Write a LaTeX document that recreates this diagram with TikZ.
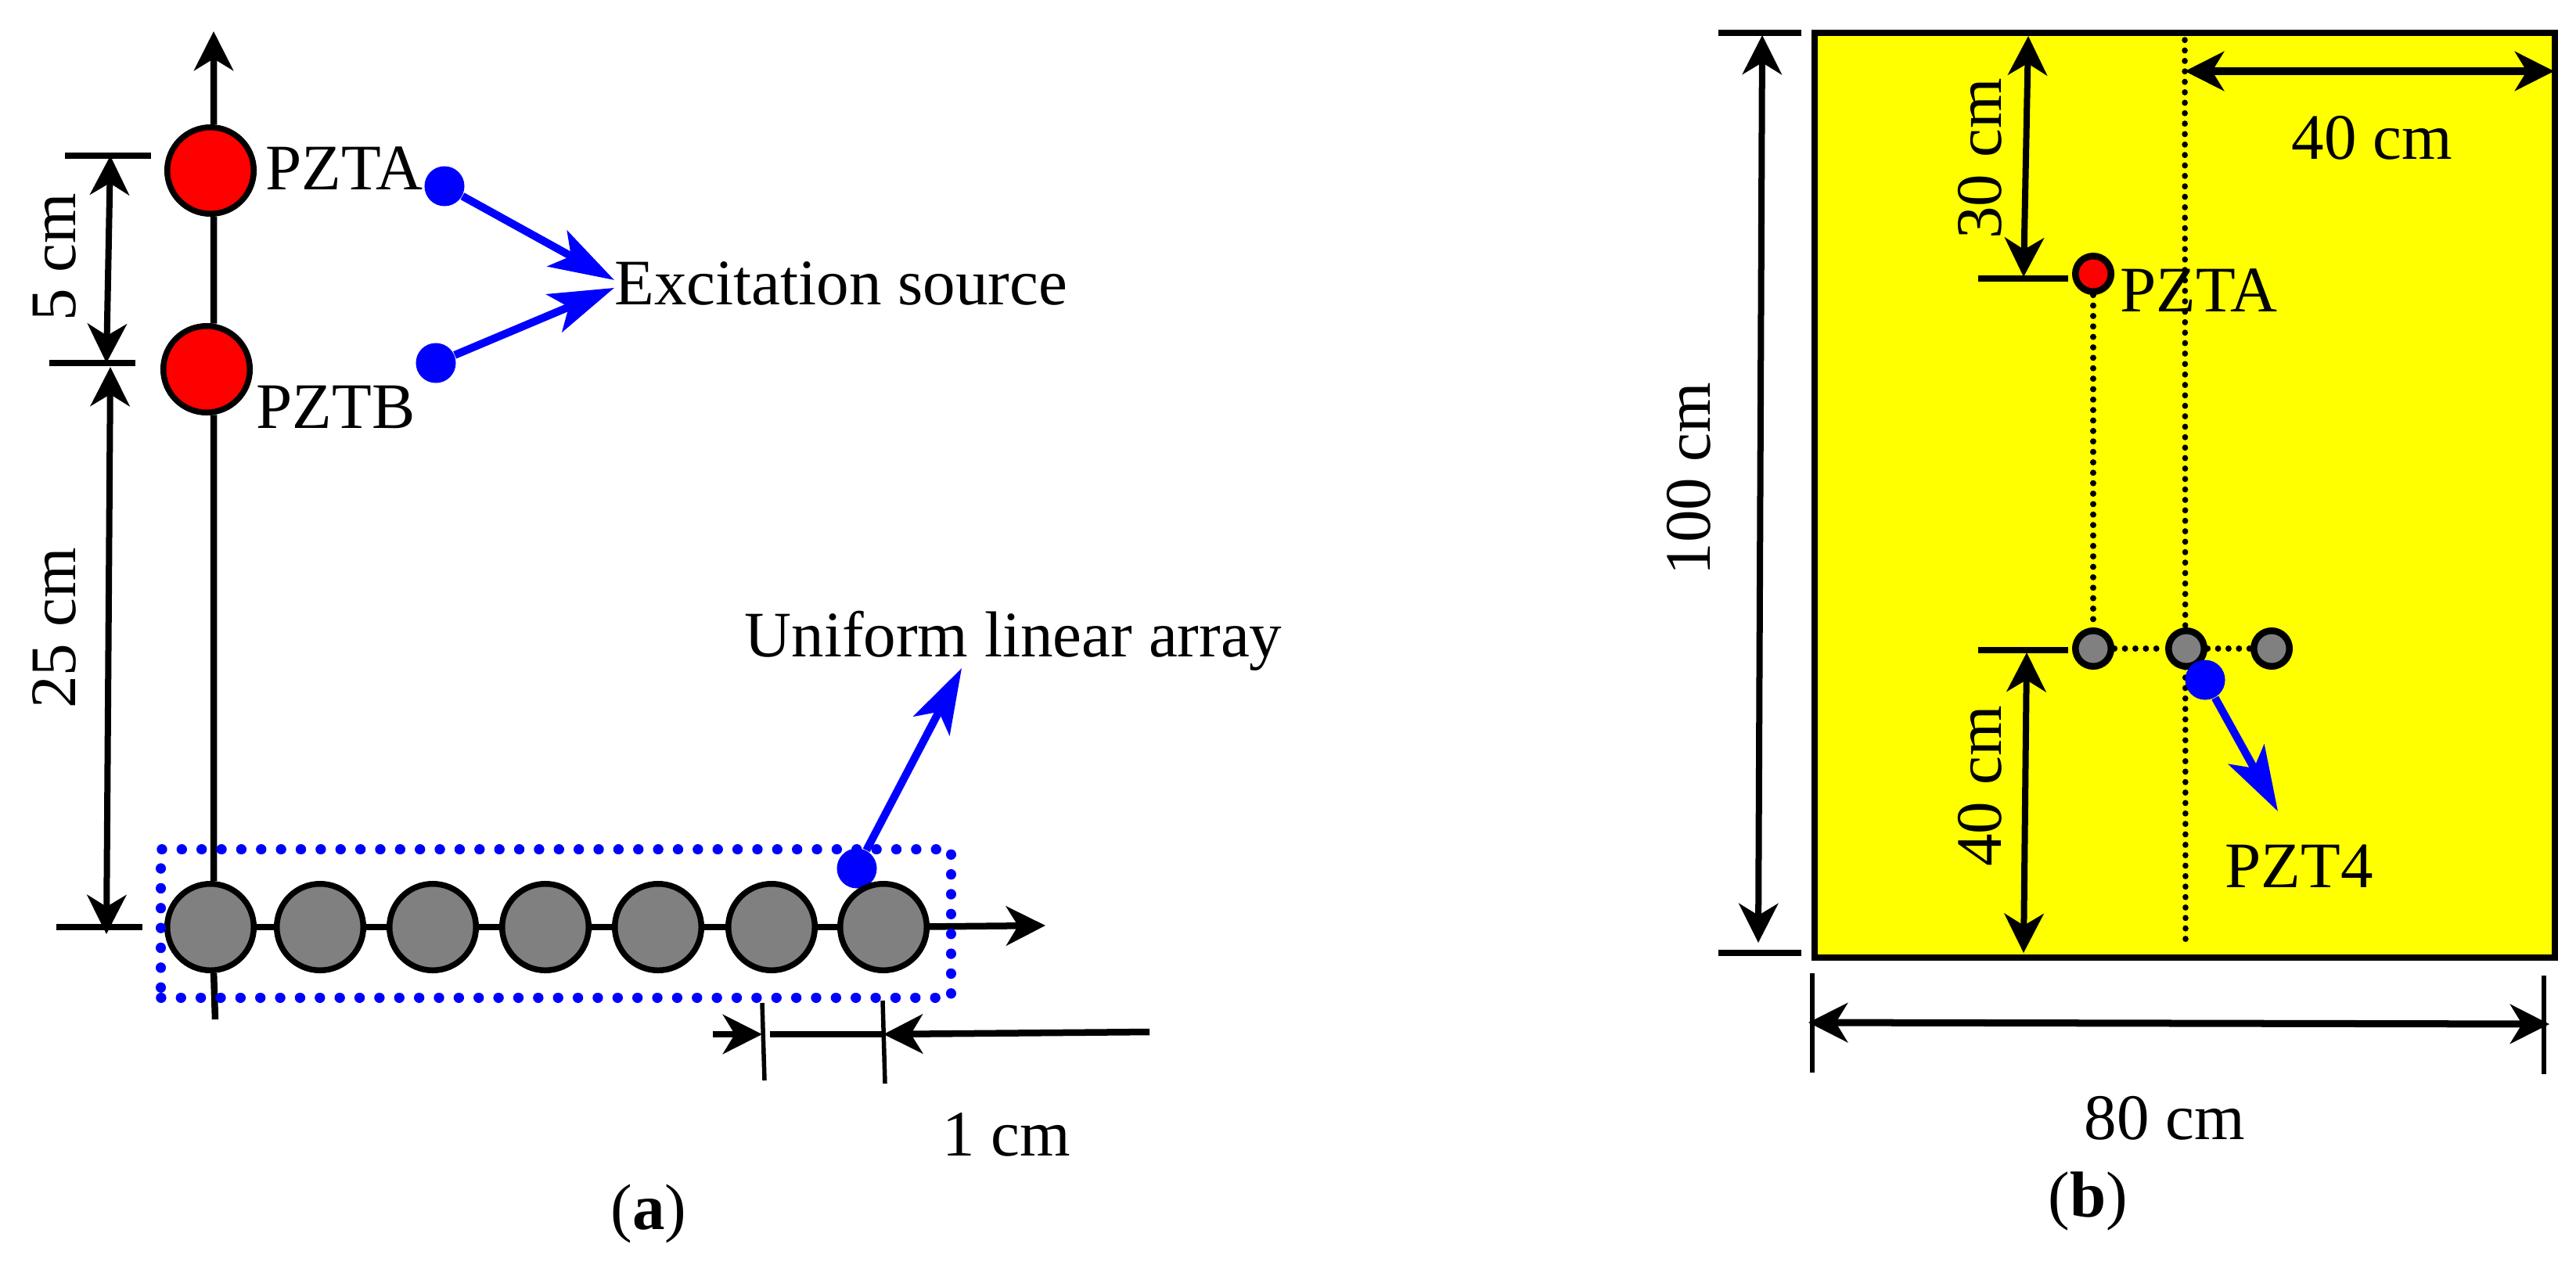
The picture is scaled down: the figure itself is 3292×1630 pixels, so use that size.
\documentclass[tikz,border=0pt]{standalone}
\usepackage{fontspec}
\setmainfont{Liberation Serif}
\usetikzlibrary{arrows.meta}
\newcommand{\figfont}{\fontsize{23.6}{28}\selectfont}
\definecolor{plateyellow}{RGB}{255,255,0}
\definecolor{ptred}{RGB}{255,0,0}
\definecolor{ptblue}{RGB}{0,0,255}
\definecolor{ptgray}{RGB}{128,128,128}
\tikzset{
  dimtip/.tip={Stealth[length=5mm,width=5mm,inset=1.5mm]},
  bluetip/.tip={Stealth[length=8.3mm,width=5.2mm,inset=2mm]}
}
\begin{document}
\begin{tikzpicture}[x=0.01cm,y=-0.01cm,
  sensor/.style={circle,draw=black,line width=0.75mm,minimum size=11.05mm,inner sep=0pt},
  small/.style={circle,draw=black,line width=0.85mm,minimum size=4.55mm,inner sep=0pt},
  marker/.style={circle,fill=ptblue,minimum size=5.1mm,inner sep=0pt},
  txt/.style={font=\figfont,inner sep=0pt,anchor=base west},
  vtxt/.style={font=\figfont,inner sep=0pt,anchor=base,rotate=90},
  axisline/.style={line width=0.85mm},
  tick/.style={line width=0.75mm},
  dimline/.style={line width=0.8mm,dimtip-dimtip},
  pointer/.style={line width=1mm,ptblue,-bluetip},
  dotline/.style={line width=0.75mm,line cap=round,dash pattern=on 0.1pt off 1.3mm}]
\useasboundingbox (0,0) rectangle (3292,1630);

% left part
\node (pzta) [sensor,fill=ptred] at (269,218) {};
\node (pztb) [sensor,fill=ptred] at (264,472) {};
\node (mka) [marker] at (568,238) {};
\node (mkb) [marker] at (557,464) {};
\node (mkc) [marker] at (1095,1110) {};
\foreach \i/\x in {1/269,2/409,3/553,4/697,5/841,6/986,7/1129}
  \node (arr\i) [sensor,fill=ptgray] at (\x,1185) {};

\coordinate (ytip) at (273,40);
\coordinate (ybot) at (275,1303);
\coordinate (xtip) at (1336,1183);
\draw[axisline,-dimtip] (arr7) -- (xtip);
\draw[axisline,-dimtip] (pzta.86) -- (ytip);
\draw[axisline] (pzta.274) -- (pztb.81);
\draw[axisline] (pztb.279) -- (arr1.86);
\draw[axisline] (arr1.274) -- (ybot);
\foreach \a/\b in {1/2,2/3,3/4,4/5,5/6,6/7}
  \draw[axisline] (arr\a) -- (arr\b);

\node (pztalbl) [txt] at (339,242) {PZTA};
\node (pztblbl) [txt] at (327,547) {PZTB};
\node (excite) [txt] at (785,389) {Excitation source};
\node (ula) [txt] at (951,839) {Uniform linear array};
\node (onecm) [txt] at (1204,1477) {1 cm};
\node (capa) [txt] at (780,1571) {(\textbf{a})};
\node (fivecm) [vtxt] at (96,329) {5 cm};
\node (twentyfive) [vtxt] at (96,803) {25 cm};

\coordinate (ulatip) at (1229,854);
\draw[pointer] (mka) -- ([yshift=0.4mm]excite.west);
\draw[pointer] (mkb) -- ([yshift=-0.6mm]excite.west);
\draw[pointer] (mkc) -- (ulatip);

\draw[tick] (83,199) coordinate (t1a) -- (193,199) coordinate (t1b);
\draw[tick] (63,464) coordinate (t2a) -- (173,464) coordinate (t2b);
\draw[tick] (72,1185) coordinate (t3a) -- (182,1185) coordinate (t3b);
\coordinate (fivetop) at (141,199);
\coordinate (fivebot) at (136,464);
\coordinate (longtop) at (141,469);
\coordinate (longbot) at (136,1194);
\draw[dimline] (fivetop) -- (fivebot);
\draw[dimline] (longtop) -- (longbot);

\draw[line width=0.55mm] (974,1282) coordinate (t4a) -- (977,1381) coordinate (t4b);
\draw[line width=0.55mm] (1128,1279) coordinate (t5a) -- (1131,1385) coordinate (t5b);
\coordinate (cmla) at (911,1322);
\coordinate (cmlb) at (974,1322);
\coordinate (cmmid) at (984,1322);
\coordinate (cmrb) at (1129,1322);
\coordinate (cmra) at (1469,1319);
\draw[axisline,-dimtip] (cmla) -- (cmlb);
\draw[axisline] (cmmid) -- (cmrb);
\draw[axisline,-dimtip] (cmra) -- (cmrb);

\node (arraybox) [draw=ptblue,line width=1.3mm,line cap=round,dash pattern=on 0.1pt off 2.5mm,
  minimum width=10.09cm,minimum height=1.89cm,inner sep=0pt] at (710.5,1180.5) {};

% right part
\node (plate) [draw=black,fill=plateyellow,line width=0.8mm,minimum width=9.46cm,minimum height=11.81cm,
  inner sep=0pt] at (2792,633) {};
\coordinate (midtop) at (2792,51);
\coordinate (midbot) at (2793,1213);
\draw[dotline] (midtop) -- (midbot);

\node (pztc) [small,fill=ptred] at (2675,350) {};
\node (grya) [small,fill=ptgray] at (2675,829) {};
\node (gryb) [small,fill=ptgray] at (2794,829) {};
\node (gryc) [small,fill=ptgray] at (2903,829) {};
\node (mkd) [marker] at (2818,869) {};
\draw[dotline] (pztc) -- (grya);
\draw[dotline] (grya) -- (gryb);
\draw[dotline] (gryb) -- (gryc);

\node (pztclbl) [txt] at (2709,398) {PZTA};
\node (pztfour) [txt] at (2843,1134) {PZT4};
\node (fortyh) [txt] at (2928,203) {40 cm};
\node (eighty) [txt] at (2663,1456) {80 cm};
\node (capb) [txt] at (2617,1555) {(\textbf{b})};
\node (hundred) [vtxt] at (2185,612) {100 cm};
\node (thirty) [vtxt] at (2557,203) {30 cm};
\node (fortyv) [vtxt] at (2557,1005) {40 cm};

\coordinate (pztfourtip) at (2911,1037);
\draw[pointer] (mkd) -- (pztfourtip);

\draw[tick] (2196,42) coordinate (t6a) -- (2302,42) coordinate (t6b);
\draw[tick] (2196,1218) coordinate (t7a) -- (2302,1218) coordinate (t7b);
\draw[tick] (2528,356) coordinate (t8a) -- (2643,356) coordinate (t8b);
\draw[tick] (2528,831) coordinate (t9a) -- (2643,831) coordinate (t9b);
\draw[line width=0.6mm] (2316,1244) coordinate (t10a) -- (2316,1371) coordinate (t10b);
\draw[line width=0.6mm] (3251,1247) coordinate (t11a) -- (3251,1373) coordinate (t11b);

\coordinate (hundtop) at (2252,45);
\coordinate (hundbot) at (2247,1205);
\coordinate (thirtop) at (2592,46);
\coordinate (thirbot) at (2586,354);
\coordinate (fvtop) at (2590,834);
\coordinate (fvbot) at (2586,1218);
\coordinate (fhleft) at (2792,91);
\coordinate (fhright) at (3264,91);
\coordinate (eightl) at (2311,1307);
\coordinate (eightr) at (3258,1309);
\draw[dimline] (hundtop) -- (hundbot);
\draw[dimline] (thirtop) -- (thirbot);
\draw[dimline] (fvtop) -- (fvbot);
\draw[dimline,line width=0.9mm] (fhleft) -- (fhright);
\draw[dimline,line width=0.9mm] (eightl) -- (eightr);
\end{tikzpicture}
\end{document}
